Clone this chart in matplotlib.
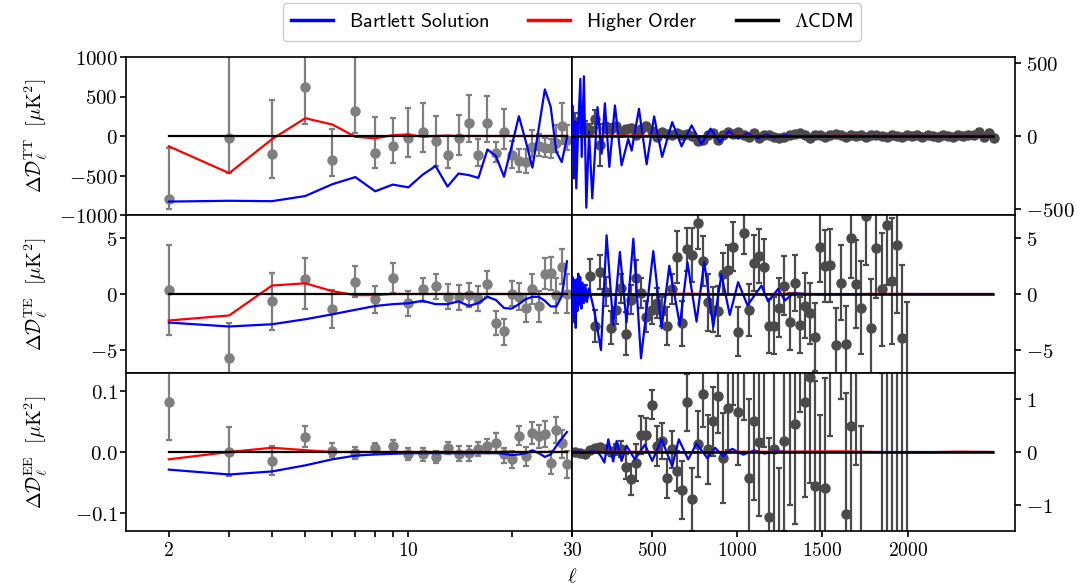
import numpy as np
import matplotlib.pyplot as plt
from matplotlib.lines import Line2D
from matplotlib.ticker import FixedLocator, FuncFormatter, NullFormatter

plt.rcParams["mathtext.fontset"] = "cm"

# ---------------- low-ell (2..29) ----------------
ell_lo = [2, 3, 4, 5, 6, 7, 8, 9, 10, 11, 12, 13, 14, 15, 16, 17, 18, 19, 20,
          21, 22, 23, 24, 25, 26, 27, 28, 29]

tt_lo = [-800, -30, -230, 620, -300, 320, -210, -125, -25, 50, -65, -235, -25, 170,
         -235, 165, -215, 55, -245, -320, -325, -140, -125, -150, -155, -85, 125, -45]
tt_lo_dn = [130, 440, 300, 470, 210, 280, 200, 220, 240, 250, 320, 170, 210, 240,
            150, 240, 120, 220, 160, 140, 140, 130, 130, 120, 120, 120, 230, 130]
tt_lo_up = [650, 1300, 680, 600, 390, 680, 450, 355, 375, 370, 315, 240, 290, 355,
            200, 340, 140, 290, 180, 150, 160, 220, 150, 120, 120, 220, 290, 190]
tt_lo_bart = [-830, -820, -825, -760, -610, -520, -700, -615, -650, -490, -380, -640,
              -475, -495, -530, -170, -255, -515, -130, 250, -70, -400, 100, 590, 370,
              -200, -330, -20]
tt_lo_high = [-130, -470, -40, 225, 145, -10, -30, 10, 20, -10, 0, 5, 0, 0, 0, 0, 0,
              0, 0, 0, 0, 0, 0, 0, 0, 0, 0, 0]

te_lo = [0.38, -5.65, -0.65, 1.32, -1.35, 1.1, -0.4, 1.4, -0.8, 0.4, 0.7, -0.25, -0.3,
         -0.1, -0.4, 0.9, -2.6, -3.3, 0.0, -0.25, -1.2, 0.4, -1.05, 1.8, 1.9, -0.05,
         2.4, 0.0]
te_lo_dn = [4.0, 3.1, 2.55, 2.65, 1.65, 1.4, 1.25, 1.3, 1.15, 1.15, 1.1, 1.1, 1.1, 1.05,
            1.1, 1.15, 1.0, 1.2, 1.1, 1.15, 1.3, 1.3, 1.45, 1.4, 1.55, 1.6, 1.55, 1.7]
te_lo_up = [4.0, 3.1, 2.55, 1.9, 1.7, 1.35, 1.15, 1.35, 1.1, 1.05, 1.05, 1.15, 1.1, 1.1,
            1.1, 1.1, 1.1, 1.1, 1.15, 1.2, 1.2, 1.35, 1.3, 1.4, 1.4, 1.5, 1.55, 1.8]
te_lo_bart = [-2.53, -2.88, -2.68, -2.24, -1.8, -1.4, -1.06, -0.9, -0.82, -0.6, -0.9,
              -0.9, -0.65, -1.06, -0.8, -0.25, -0.53, -1.24, -1.3, -0.9, -0.45, -0.25,
              -0.25, -0.6, -1.1, -1.1, -0.2, 2.9]
te_lo_high = [-2.35, -1.9, 0.75, 0.95, 0.25, -0.1, -0.1, 0.0, 0.0, 0, 0, 0, 0, 0, 0, 0,
              0, 0, 0, 0, 0, 0, 0, 0, 0, 0, 0, 0]

ee_lo = [0.082, 0.0, -0.014, 0.025, 0.002, -0.002, 0.006, 0.010, -0.003, -0.004, -0.008,
         0.006, -0.003, -0.002, 0.005, 0.010, 0.015, -0.004, -0.011, 0.027, -0.007, 0.032,
         0.027, 0.030, -0.018, 0.036, 0.014, -0.020]
ee_lo_dn = [0.063, 0.040, 0.024, 0.017, 0.010, 0.010, 0.010, 0.010, 0.010, 0.010, 0.010,
            0.010, 0.011, 0.012, 0.012, 0.012, 0.015, 0.014, 0.015, 0.015, 0.016, 0.019,
            0.020, 0.021, 0.019, 0.021, 0.024, 0.022]
ee_lo_up = [0.06, 0.041, 0.024, 0.017, 0.012, 0.011, 0.009, 0.010, 0.009, 0.010, 0.010,
            0.011, 0.013, 0.012, 0.011, 0.012, 0.016, 0.011, 0.013, 0.016, 0.015, 0.018,
            0.017, 0.021, 0.019, 0.022, 0.023, 0.021]
ee_lo_bart = [-0.029, -0.037, -0.032, -0.022, -0.012, -0.006, -0.004, -0.003, -0.002,
              -0.002, -0.002, -0.002, -0.002, -0.002, -0.002, -0.002, -0.002, -0.003,
              -0.005, -0.004, -0.002, 0.003, -0.002, -0.008, -0.004, 0.010, 0.022, 0.033]
ee_lo_high = [-0.012, 0.0, 0.007, 0.003, 0.0, 0, 0, 0, 0, 0, 0, 0, 0, 0, 0, 0, 0, 0, 0,
              0, 0, 0, 0, 0, 0, 0, 0, 0]

# ---------------- high-ell binned data ----------------
ell_tt_hi = [47, 77, 107, 137, 167, 197, 227, 257, 287, 317, 347, 377, 407, 437, 467,
             497, 527, 557, 587, 617, 647, 677, 707, 737, 767, 797, 827, 857, 887, 917,
             947, 977, 1007, 1037, 1067, 1097, 1127, 1157, 1187, 1217, 1247, 1277, 1307,
             1337, 1367, 1397, 1427, 1457, 1487, 1517, 1547, 1577, 1607, 1637, 1667,
             1697, 1727, 1757, 1787, 1817, 1847, 1877, 1907, 1937, 1967, 1997, 2027,
             2057, 2087, 2117, 2147, 2177, 2207, 2237, 2267, 2297, 2327, 2357, 2387,
             2417, 2447, 2477, 2507]
tt_hi = [95, 70, 60, 40, 115, -60, 55, 50, 65, 30, 45, 55, 10, 45, 70, 35, -5, 25, 15,
         5, 20, 10, 15, 0, -35, -25, 5, 20, -30, 10, 25, 15, 30, 10, -5, 20, -15, 5, 10,
         -10, -15, -5, 10, 15, 20, 5, -15, 10, 5, -5, 10, 15, 5, -10, 10, 0, 5, -10, 10,
         5, 0, -5, 10, 0, -10, 5, 0, 10, -5, 5, 0, -5, 10, 0, -5, 5, 0, 10, 5, 25, -5,
         20, -15]
tt_hi_err = [60, 50, 45, 40, 60, 145, 35, 30, 25, 25, 20, 20, 20, 18, 18, 16, 16, 15, 15,
             15, 15, 14, 14, 14, 14, 14, 14, 14, 14, 14, 14, 14, 14, 14, 14, 14, 14, 14,
             14, 14, 14, 14, 14, 14, 14, 14, 14, 14, 14, 14, 14, 14, 14, 14, 14, 14, 14,
             14, 15, 15, 15, 15, 15, 15, 15, 16, 16, 16, 16, 17, 17, 17, 18, 18, 18, 19,
             19, 20, 20, 21, 21, 22, 22]

ell_pol_hi = [47, 77, 107, 137, 167, 197, 227, 257, 287, 317, 347, 377, 407, 437, 467,
              497, 527, 557, 587, 617, 647, 677, 707, 737, 767, 797, 827, 857, 887, 917,
              947, 977, 1007, 1037, 1067, 1097, 1127, 1157, 1187, 1217, 1247, 1277, 1307,
              1337, 1367, 1397, 1427, 1457, 1487, 1517, 1547, 1577, 1607, 1637, 1667,
              1697, 1727, 1757, 1787, 1817, 1847, 1877, 1907, 1937, 1967, 1997]
te_hi = [0.2, -0.3, 0.1, 1.58, -2.83, 1.93, 0.2, -3.0, -1.4, 0.5, -3.5, -0.5, 1.43, 0.1,
         -2.0, -1.4, -0.8, -1.55, -2.83, 0.45, 3.27, -2.6, 3.96, 3.42, 6.28, 2.92, -0.74,
         -1.4, -1.5, 1.8, 2.17, 4.2, -3.33, 5.4, -1.4, 2.77, 3.36, 2.4, -2.8, -2.8, -1.2,
         0.74, -2.44, 1.0, -2.74, -1.04, -1.7, -3.78, 4.17, 2.47, 2.53, -4.52, 1.0, -4.46,
         5.0, 0.9, -1.2, 6.87, -3.04, 4.05, 0.4, 6.13, 1.13, 4.35, -3.93, -8.0]
te_hi_err = [0.6, 0.6, 0.7, 1.55, 1.45, 1.5, 1.3, 1.45, 1.3, 1.3, 1.9, 1.3, 1.6, 1.3, 1.4,
             1.3, 1.3, 1.3, 1.7, 1.3, 2.3, 2.0, 1.9, 2.4, 2.3, 2.2, 2.5, 2.0, 2.2, 1.8,
             2.2, 2.2, 2.2, 1.9, 2.3, 2.5, 2.4, 2.5, 2.4, 2.5, 2.6, 2.6, 2.5, 2.5, 2.5,
             2.9, 2.7, 3.0, 3.1, 3.2, 3.2, 3.3, 3.3, 3.4, 3.6, 3.9, 4.1, 4.3, 4.4, 4.4,
             5.0, 5.3, 5.6, 6.0, 6.5, 7.3]

ee_hi = [0.0, -0.02, -0.03, 0.04, 0.08, 0.1, 0.05, 0.0, 0.05, 0.05, -0.28, -0.52, -0.2,
         0.32, 0.32, 0.9, 0.11, 0.21, -0.5, 0.05, -0.37, -0.73, 0.94, -0.9, 0.15, 1.1,
         0.05, 0.58, 1.06, -0.11, 0.84, 2.0, 0.75, 1.7, -0.5, 0.59, 0.19, 1.9, -1.23,
         0.06, -2.0, 0.2, 1.7, 0.53, 2.3, 0.94, 1.42, -0.65, -1.8, -0.69, 2.0, 4.5, 2.8,
         -1.18, 0.5, 1.7, -2.5, 6.0, -6.0, 6.5, -3.0, 2.5, -2.5, 2.2, -2.0, 2.0]
ee_hi_err = [0.02, 0.02, 0.02, 0.03, 0.04, 0.05, 0.06, 0.08, 0.1, 0.15, 0.24, 0.3, 0.35,
             0.36, 0.32, 0.28, 0.38, 0.35, 0.37, 0.35, 0.38, 0.55, 0.55, 0.6, 0.62, 0.62,
             0.65, 0.65, 0.7, 0.85, 0.8, 1.1, 1.0, 1.1, 1.5, 1.5, 1.4, 1.8, 1.5, 1.6,
             1.7, 1.7, 2.7, 1.9, 1.55, 1.8, 2.0, 2.0, 2.5, 2.1, 1.7, 2.0, 1.8, 2.3, 2.5,
             1.95, 3.0, 3.0, 3.0, 3.5, 4.5, 5.0, 5.0, 5.5, 6.0, 6.5]

# ---------------- high-ell model curves ----------------
ell_tt_bart = [30, 32, 42, 50, 55, 67, 79, 87, 100, 114, 130, 149, 180, 204, 223, 249,
               282, 321, 360, 380, 423, 468, 512, 559, 618, 673, 732, 790, 843, 898, 950,
               1005, 1060, 1122, 1171, 1220, 1278, 1340, 1400, 2500]
tt_bart = [0, 209, -290, 100, -358, 80, 390, -143, 408, -490, 30, -426, 197, -120, 224,
           -211, 209, -200, -20, -100, 186, -193, 134, -143, 95, -70, 73, -57, 50, -41,
           34, -18, 20, -18, 11, -10, 5, -3, 0, 0]

ell_te_bart = [30, 33, 36, 40, 44, 48, 52, 57, 62, 67, 72, 78, 85, 92, 100, 108, 118,
               130, 161, 200, 233, 272, 311, 350, 390, 435, 507, 556, 601, 663, 708, 761,
               806, 859, 907, 956, 1005, 1060, 1142, 1181, 1240, 1279, 1333, 1400, 2500]
te_bart = [0, 1.5, -1.8, 1.3, -2.5, 1.0, -3.0, 1.3, -1.5, 1.8, -1.0, 1.5, -1.3, 1.0,
           -0.8, 0.8, -0.7, 0.5, -1.5, -4.97, 5.2, -2.75, 3.72, -2.5, 4.9, -5.7, 3.8,
           -3.04, 2.5, -2.74, 2.77, -2.44, 2.83, -2.89, 1.72, -1.85, 1.05, -1.0, 0.74,
           -0.65, 0.45, -0.57, 0.1, 0, 0]

ell_ee_bart = [30, 70, 110, 150, 180, 200, 220, 243, 272, 292, 321, 350, 399, 458, 501,
               556, 618, 657, 712, 761, 825, 870, 917, 970, 1034, 1100, 1160, 1220, 1300,
               2500]
ee_bart = [0, 0.01, -0.01, 0.02, 0.0, -0.08, -0.2, 0.24, -0.18, 0.21, -0.17, 0.12,
           -0.14, 0.14, -0.17, 0.24, -0.27, 0.24, -0.14, 0.16, -0.12, 0.08, -0.08, 0.06,
           -0.05, 0.03, -0.03, 0.02, 0, 0]

ell_hi_high = [30, 400, 700, 1000, 1300, 1600, 1800, 2100, 2300, 2500]
tt_hi_high = [0, 3, -3, 2, -2, 1, 0, 0, 0, 0]
te_hi_high = [0, -0.05, 0.03, -0.04, 0.02, -0.03, 0.01, 0, 0, 0]
ee_hi_high = [0, 0.004, -0.004, 0.004, 0.006, 0.012, 0.0, -0.006, 0.006, 0]

ell_lcdm_lo = [2, 29]
ell_lcdm_hi = [30, 2500]

# ---------------- figure ----------------
fig = plt.figure(figsize=(10.81, 5.88), dpi=100)

xl, wl = 126 / 1081, 446 / 1081
xr, wr = 572 / 1081, 443 / 1081
h = 158 / 588
bottoms = [1 - 215 / 588, 1 - 373 / 588, 1 - 531 / 588]

c_lo = "#7f7f7f"
c_hi = "#4a4a4a"

rows = [
    dict(name="TT", lo=(tt_lo, tt_lo_dn, tt_lo_up, tt_lo_bart, tt_lo_high),
         hi=(ell_tt_hi, tt_hi, tt_hi_err, ell_tt_bart, tt_bart, tt_hi_high),
         ylo=(-1000, 1000), yhi=(-540, 540), tlo=[-1000, -500, 0, 500, 1000],
         thi=[-500, 0, 500], fmt="{:g}"),
    dict(name="TE", lo=(te_lo, te_lo_dn, te_lo_up, te_lo_bart, te_lo_high),
         hi=(ell_pol_hi, te_hi, te_hi_err, ell_te_bart, te_bart, te_hi_high),
         ylo=(-7, 7), yhi=(-7, 7), tlo=[-5, 0, 5], thi=[-5, 0, 5], fmt="{:g}"),
    dict(name="EE", lo=(ee_lo, ee_lo_dn, ee_lo_up, ee_lo_bart, ee_lo_high),
         hi=(ell_pol_hi, ee_hi, ee_hi_err, ell_ee_bart, ee_bart, ee_hi_high),
         ylo=(-0.13, 0.13), yhi=(-1.5, 1.5), tlo=[-0.1, 0.0, 0.1], thi=[-1, 0, 1],
         fmt="{:.1f}"),
]


def math_fmt(pattern):
    return FuncFormatter(lambda v, p: "$" + pattern.format(v) + "$")


def sf_fmt(skip=()):
    return FuncFormatter(lambda v, p: "" if round(v) in skip else r"$\mathsf{%d}$" % v)


for i, r in enumerate(rows):
    axl = fig.add_axes([xl, bottoms[i], wl, h])
    axr = fig.add_axes([xr, bottoms[i], wr, h])

    v, dn, up, bart, high = r["lo"]
    axl.errorbar(ell_lo, v, yerr=[dn, up], fmt="o", color=c_lo, ms=6.5, capsize=2.5,
                 elinewidth=1.6, capthick=1.6, zorder=2)
    axl.plot(ell_lo, bart, color="blue", lw=1.6, zorder=3)
    axl.plot(ell_lo, high, color="red", lw=1.6, zorder=3)
    axl.plot(ell_lcdm_lo, [0, 0], color="black", lw=1.6, zorder=4)

    el, v, err, eb, b, hh = r["hi"]
    axr.errorbar(el, v, yerr=err, fmt="o", color=c_hi, ms=6.5, capsize=2.5,
                 elinewidth=1.6, capthick=1.6, zorder=2)
    axr.plot(eb, b, color="blue", lw=1.6, zorder=3)
    axr.plot(ell_hi_high, hh, color="red", lw=1.6, zorder=3)
    axr.plot(ell_lcdm_hi, [0, 0], color="black", lw=1.8, zorder=4)

    axl.set_xscale("log")
    axl.set_xlim(1.5, 30)
    axl.set_ylim(*r["ylo"])
    axl.yaxis.set_major_locator(FixedLocator(r["tlo"]))
    axl.yaxis.set_major_formatter(math_fmt(r["fmt"]))
    axl.xaxis.set_major_locator(FixedLocator([2, 10, 30]))
    axl.xaxis.set_minor_locator(FixedLocator([3, 4, 5, 6, 7, 8, 9, 20]))
    axl.xaxis.set_minor_formatter(NullFormatter())

    axr.set_xlim(30, 2630)
    axr.set_ylim(*r["yhi"])
    axr.yaxis.tick_right()
    axr.yaxis.set_major_locator(FixedLocator(r["thi"]))
    axr.yaxis.set_major_formatter(math_fmt("{:g}"))
    axr.xaxis.set_major_locator(FixedLocator([30, 500, 1000, 1500, 2000]))

    for ax in (axl, axr):
        ax.tick_params(which="both", length=4, width=1.2)
        ax.tick_params(axis="y", labelsize=15)
        ax.tick_params(axis="x", labelsize=14)
        for s in ax.spines.values():
            s.set_linewidth(1.2)
    axl.tick_params(axis="y", pad=2)
    axr.tick_params(axis="y", pad=4)

    if i < 2:
        for ax in (axl, axr):
            ax.tick_params(axis="x", which="both", bottom=False, labelbottom=False)
    else:
        axl.xaxis.set_major_formatter(sf_fmt(skip=(30,)))
        axr.xaxis.set_major_formatter(sf_fmt())

    axl.set_ylabel(r"$\Delta\mathcal{D}_\ell^{\mathrm{%s}}\ \ [\mu\mathrm{K}^2]$" % r["name"],
                   fontsize=14.5)
    axl.yaxis.set_label_coords(-0.17, 0.5)

fig.text(xr, 0.003, r"$\ell$", ha="center", va="bottom", fontsize=15)

handles = [Line2D([], [], color="blue", lw=2.5), Line2D([], [], color="red", lw=2.5),
           Line2D([], [], color="black", lw=2.5)]
labels = [r"$\mathsf{Bartlett\ Solution}$", r"$\mathsf{Higher\ Order}$",
          r"$\Lambda\mathsf{CDM}$"]
fig.legend(handles, labels, loc="upper center", bbox_to_anchor=(0.529, 0.995), ncol=3,
           fontsize=14.5, handlelength=2.1, handletextpad=0.8, columnspacing=1.9,
           borderaxespad=0.0, fancybox=True, framealpha=1.0, edgecolor="#cccccc")

fig.savefig("out.png", dpi=100)
